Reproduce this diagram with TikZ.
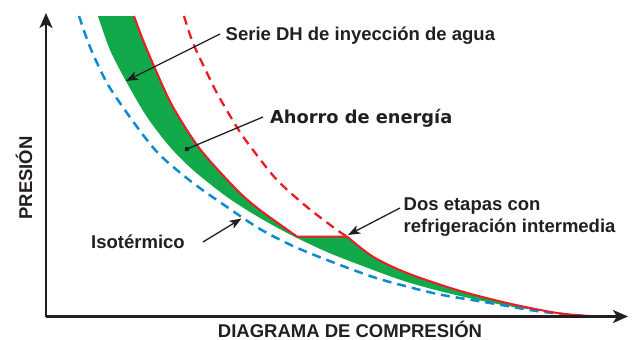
\documentclass[tikz,border=0pt]{standalone}
\usepackage{fontspec}
\setmainfont{Liberation Sans}
\newfontfamily\heavyfont{DejaVu Sans}
\usetikzlibrary{arrows.meta}
\definecolor{ink}{HTML}{231F20}
\definecolor{savegreen}{HTML}{12A94A}
\definecolor{curvered}{HTML}{ED1C24}
\definecolor{isoblue}{HTML}{0A8BD3}
\tikzset{
  lbl/.style={inner sep=0pt, text=ink, font=\fontsize{18.5}{22}\selectfont\bfseries},
  axisline/.style={draw=ink, line width=2.6pt, -{Stealth[length=15pt,width=13pt,inset=4pt]}},
  callout/.style={draw=ink, line width=1.3pt, -{Stealth[length=12pt,width=9pt,inset=3pt]}},
  redsolid/.style={draw=curvered, line width=2pt, line join=miter},
  reddash/.style={draw=curvered, line width=2.3pt, dash pattern=on 9pt off 6pt},
  bluedash/.style={draw=isoblue, line width=2.5pt, dash pattern=on 9pt off 6pt}
}
\begin{document}
\begin{tikzpicture}[x=1pt,y=-1pt]
\useasboundingbox (0,0) rectangle (633,340);
% green saving area
\fill[savegreen] plot[smooth] coordinates {(98,16) (110,50) (127,83) (147,117) (170,147) (193,170) (227,197) (260,218) (293,236) (327,252) (360,265) (407,282) (460,296) (520,308) (590,316)}
  -- plot[smooth] coordinates {(590,316) (557,313) (507,303) (457,290) (407,273) (373,256.7) (347,236.5)}
  -- (297,236.5)
  -- plot[smooth] coordinates {(297,236.5) (260,210) (237,190) (200,149) (173,107) (157,73) (143,40) (134,16)}
  -- cycle;
% isothermal
\draw[bluedash] plot[smooth] coordinates {(79,16) (90,47) (107,83) (127,113) (147,140) (163,158) (193,183) (227,207) (260,229) (293,246) (327,260) (373,277) (407,286.5) (440,294.5) (490,303) (540,311.5) (590,316.5)};
% single stage dashed
\draw[reddash] plot[smooth] coordinates {(184,16) (193,43) (207,73) (218,95) (238,129) (253,150) (277,180) (307,207) (337,230) (347,236.5)};
% DH series / two stages
\draw[redsolid] plot[smooth] coordinates {(134,16) (143,40) (157,73) (173,107) (200,149) (237,190) (260,210) (297,236.5)}
  -- (347,236.5)
  -- plot[smooth] coordinates {(347,236.5) (373,256.7) (407,273) (457,290) (507,303) (557,313) (590,316)};
% axes
\coordinate (O) at (46,316.5);
\coordinate (ytop) at (46,13);
\coordinate (xend) at (628,316.5);
\draw[axisline] (O) -- (ytop);
\draw[axisline] (O) -- (xend);
% labels
\node[lbl, rotate=90, anchor=base] (ylab) at (32,178) {PRESIÓN};
\node[lbl, anchor=base] (xlab) at (350,337.5) {DIAGRAMA DE COMPRESIÓN};
\node[lbl, anchor=base west] (serie) at (225.5,40.7) {Serie DH de inyección de agua};
\node[inner sep=0pt, text=ink, anchor=base west, font=\fontsize{17.8}{20}\selectfont\heavyfont\bfseries] (ahorro) at (270,123) {Ahorro de energía};
\node[lbl, anchor=base west] (iso) at (91,248) {Isotérmico};
\node[lbl, anchor=base west, align=left] (dos) at (403.5,232) {Dos etapas con\\refrigeración intermedia};
% callouts
\coordinate (serieS) at (220,34);
\coordinate (serieT) at (126,81);
\coordinate (ahorroS) at (263,117);
\coordinate (ahorroT) at (187,149);
\coordinate (isoS) at (203,242);
\coordinate (isoT) at (241.5,218.5);
\coordinate (dosS) at (400,208);
\coordinate (dosT) at (348,235);
\draw[callout] (serieS) -- (serieT);
\draw[draw=ink, line width=1.3pt] (ahorroS) -- (ahorroT);
\fill[ink] (ahorroT) circle (2.3pt);
\draw[callout] (isoS) -- (isoT);
\draw[callout] (dosS) -- (dosT);
\end{tikzpicture}
\end{document}
